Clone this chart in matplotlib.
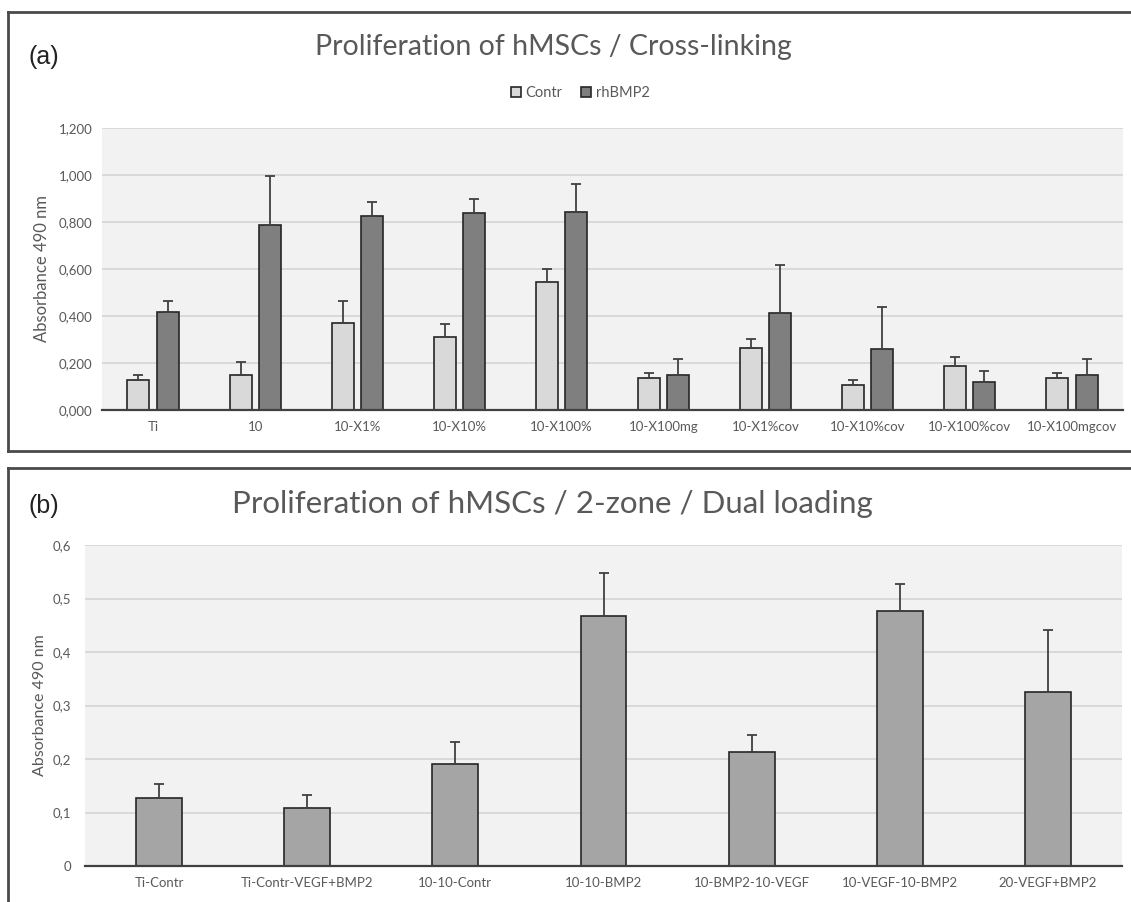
import numpy as np
import matplotlib
matplotlib.use("Agg")
import matplotlib.pyplot as plt
from matplotlib.lines import Line2D

# ---- data -------------------------------------------------------------
cats_a = ["Ti", "10", "10-X1%", "10-X10%", "10-X100%", "10-X100mg",
          "10-X1%cov", "10-X10%cov", "10-X100%cov", "10-X100mgcov"]
contr_mean = [0.128, 0.149, 0.369, 0.312, 0.546, 0.135, 0.262, 0.106, 0.189, 0.135]
contr_err = [0.021, 0.057, 0.095, 0.053, 0.053, 0.021, 0.039, 0.022, 0.038, 0.021]
bmp_mean = [0.418, 0.787, 0.827, 0.837, 0.844, 0.149, 0.411, 0.258, 0.118, 0.149]
bmp_err = [0.046, 0.209, 0.057, 0.062, 0.118, 0.068, 0.206, 0.179, 0.049, 0.068]
series_a = ["Contr", "rhBMP2"]
yticks_a = [0.0, 0.2, 0.4, 0.6, 0.8, 1.0, 1.2]

cats_b = ["Ti-Contr", "Ti-Contr-VEGF+BMP2", "10-10-Contr", "10-10-BMP2",
          "10-BMP2-10-VEGF", "10-VEGF-10-BMP2", "20-VEGF+BMP2"]
b_mean = [0.128, 0.108, 0.190, 0.467, 0.214, 0.477, 0.325]
b_err = [0.025, 0.025, 0.041, 0.080, 0.030, 0.050, 0.117]
yticks_b = [0.0, 0.1, 0.2, 0.3, 0.4, 0.5, 0.6]

# ---- style ------------------------------------------------------------
W, H = 1131, 902
FONT = "Lato"
TXT = "#595959"
EDGE = "#262626"
GRID = "#d9d9d9"
BG = "#f2f2f2"
plt.rcParams["font.family"] = [FONT, "DejaVu Sans"]

fig = plt.figure(figsize=(W / 100, H / 100), dpi=100)
fig.patch.set_facecolor("white")


def px_axes(left, top, right, bottom):
    return fig.add_axes([left / W, 1 - bottom / H, (right - left) / W, (bottom - top) / H])


def style_axes(ax, yticks, fmt, fontsize, ypad, xpad):
    ax.set_facecolor(BG)
    for s in ["left", "right", "top"]:
        ax.spines[s].set_visible(False)
    ax.spines["bottom"].set_color("#404040")
    ax.spines["bottom"].set_linewidth(1.6)
    ax.set_yticks(yticks)
    ax.set_yticklabels([fmt(v) for v in yticks])
    ax.set_ylim(yticks[0], yticks[-1])
    ax.yaxis.grid(True, color=GRID, linewidth=1.4)
    ax.set_axisbelow(True)
    ax.tick_params(axis="both", length=0, labelcolor=TXT, labelsize=fontsize)
    ax.tick_params(axis="y", pad=ypad)
    ax.tick_params(axis="x", pad=xpad)


# overlay for panel frames
frame = fig.add_axes([0, 0, 1, 1])
frame.set_xlim(0, W)
frame.set_ylim(H, 0)
frame.axis("off")
frame.set_zorder(-5)
fc = "#4a4a4a"
for (x0, y0, x1, y1) in [(8, 12, W + 5, 12), (8, 12, 8, 451), (8, 451, W + 5, 451),
                         (8, 468, W + 5, 468), (8, 468, 8, H + 5)]:
    frame.add_line(Line2D([x0, x1], [y0, y1], color=fc, linewidth=2.0))

# ---- panel (a) --------------------------------------------------------
ax_a = px_axes(102, 128, 1123, 410)
x = np.arange(len(cats_a))
bw = 0.215
off = 0.143
zeros = np.zeros(len(cats_a))
err_kw = dict(ecolor="#404040", elinewidth=1.3, capsize=3.5, capthick=1.3)
b1 = ax_a.bar(x - off, contr_mean, bw, color="#d9d9d9", edgecolor=EDGE, linewidth=1.2,
              yerr=[zeros, contr_err], error_kw=err_kw, label=series_a[0])
b2 = ax_a.bar(x + off, bmp_mean, bw, color="#7f7f7f", edgecolor=EDGE, linewidth=1.2,
              yerr=[zeros, bmp_err], error_kw=err_kw, label=series_a[1])
ax_a.set_xlim(-0.5, len(cats_a) - 0.5)
ax_a.set_xticks(x)
ax_a.set_xticklabels(cats_a)
style_axes(ax_a, yticks_a, lambda v: f"{v:.3f}".replace(".", ","), 9.5, 7, 8)
ax_a.set_ylabel("Absorbance 490 nm", color=TXT, fontsize=12)
ax_a.yaxis.set_label_coords((50 - 102) / 1021, 0.5)

fig.legend(handles=[b1, b2], labels=series_a, loc="center",
           bbox_to_anchor=(580 / W, 1 - 93 / H), ncol=2, frameon=False,
           handlelength=0.7, handleheight=0.7, handletextpad=0.3,
           columnspacing=1.3, fontsize=10.5, labelcolor=TXT)

fig.text(553 / W, 1 - 55 / H, "Proliferation of hMSCs / Cross-linking",
         ha="center", va="baseline", fontsize=20.5, color=TXT)
fig.text(28 / W, 1 - 64 / H, "(a)", ha="left", va="baseline", fontsize=18,
         color="#222222", family="Liberation Sans")

# ---- panel (b) --------------------------------------------------------
ax_b = px_axes(85, 545, 1122, 866)
xb = np.arange(len(cats_b))
zb = np.zeros(len(cats_b))
ax_b.bar(xb, b_mean, 0.31, color="#a5a5a5", edgecolor=EDGE, linewidth=1.2,
         yerr=[zb, b_err], error_kw=err_kw)
ax_b.set_xlim(-0.5, len(cats_b) - 0.5)
ax_b.set_xticks(xb)
ax_b.set_xticklabels(cats_b)
style_axes(ax_b, yticks_b, lambda v: "0" if v == 0 else f"{v:.1f}".replace(".", ","),
           9.5, 10, 8)
ax_b.set_ylabel("Absorbance 490 nm", color=TXT, fontsize=11.5)
ax_b.yaxis.set_label_coords((47 - 85) / 1037, 0.5)

fig.text(552 / W, 1 - 513 / H, "Proliferation of hMSCs / 2-zone / Dual loading",
         ha="center", va="baseline", fontsize=22.5, color=TXT)
fig.text(28 / W, 1 - 513 / H, "(b)", ha="left", va="baseline", fontsize=18,
         color="#222222", family="Liberation Sans")

fig.savefig("out.png", dpi=100, facecolor="white")
